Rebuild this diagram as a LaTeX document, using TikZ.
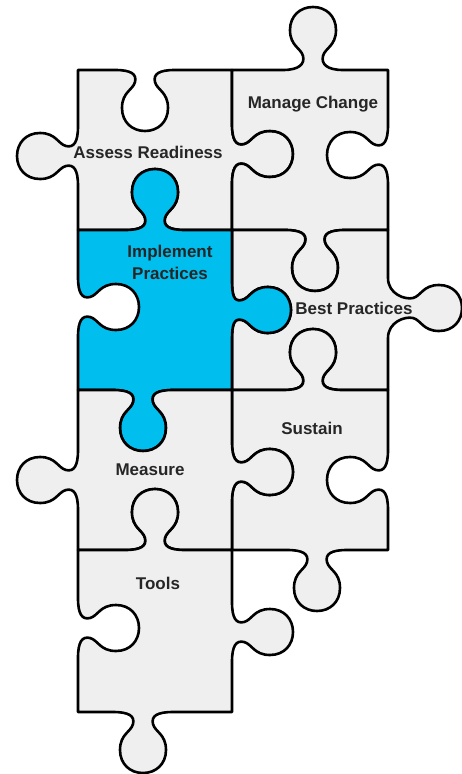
\documentclass[tikz,border=0pt]{standalone}
\usepackage{fontspec}
\setmainfont{Liberation Sans}
\definecolor{pgray}{RGB}{239,239,239}
\definecolor{pblue}{RGB}{0,190,238}
% knob: center (#1,#2), tangent (#3,#4), knob direction (#5,#6), extra length #7
\newcommand\knob[7]{%
 -- ({#1-30*(#3)},{#2-30*(#4)})
 .. controls ({#1-14*(#3)},{#2-14*(#4)})
 and ({#1-8*(#3)+(4+#7)*(#5)},{#2-8*(#4)+(4+#7)*(#6)})
 .. ({#1-10*(#3)+(12+#7)*(#5)},{#2-10*(#4)+(12+#7)*(#6)})
 .. controls ({#1-12*(#3)+(20+#7)*(#5)},{#2-12*(#4)+(20+#7)*(#6)})
 and ({#1-23*(#3)+(22+#7)*(#5)},{#2-23*(#4)+(22+#7)*(#6)})
 .. ({#1-23*(#3)+(38+#7)*(#5)},{#2-23*(#4)+(38+#7)*(#6)})
 .. controls ({#1-23*(#3)+(52+#7)*(#5)},{#2-23*(#4)+(52+#7)*(#6)})
 and ({#1-13*(#3)+(61+#7)*(#5)},{#2-13*(#4)+(61+#7)*(#6)})
 .. ({#1+(61+#7)*(#5)},{#2+(61+#7)*(#6)})
 .. controls ({#1+13*(#3)+(61+#7)*(#5)},{#2+13*(#4)+(61+#7)*(#6)})
 and ({#1+23*(#3)+(52+#7)*(#5)},{#2+23*(#4)+(52+#7)*(#6)})
 .. ({#1+23*(#3)+(38+#7)*(#5)},{#2+23*(#4)+(38+#7)*(#6)})
 .. controls ({#1+23*(#3)+(22+#7)*(#5)},{#2+23*(#4)+(22+#7)*(#6)})
 and ({#1+12*(#3)+(20+#7)*(#5)},{#2+12*(#4)+(20+#7)*(#6)})
 .. ({#1+10*(#3)+(12+#7)*(#5)},{#2+10*(#4)+(12+#7)*(#6)})
 .. controls ({#1+8*(#3)+(4+#7)*(#5)},{#2+8*(#4)+(4+#7)*(#6)})
 and ({#1+14*(#3)},{#2+14*(#4)})
 .. ({#1+30*(#3)},{#2+30*(#4)})
}
\tikzset{
 piece/.style={fill=pgray, draw=black, line width=2.6pt, line join=round},
 bluepiece/.style={piece, fill=pblue},
 lbl/.style={font=\bfseries\fontsize{17}{22}\selectfont, text=black!85, align=center, inner sep=0pt}
}
\begin{document}
\begin{tikzpicture}[x=1pt, y=-1pt]
\useasboundingbox (0,0) rectangle (462,774);
% Assess Readiness
\path[piece] (78,70) \knob{145}{70}{1}{0}{0}{1}{0}
 -- (232,70) \knob{232}{154}{0}{1}{1}{0}{0}
 -- (232,230) \knob{155}{230}{-1}{0}{0}{-1}{0}
 -- (78,230) \knob{78}{156}{0}{-1}{-1}{0}{0} -- cycle;
% Manage Change
\path[piece] (232,70) \knob{313}{70}{1}{0}{0}{-1}{2}
 -- (388,70) \knob{388}{155}{0}{1}{-1}{0}{0}
 -- (388,230) \knob{315}{230}{-1}{0}{0}{1}{0}
 -- (232,230) \knob{232}{154}{0}{-1}{1}{0}{0} -- cycle;
% Best Practices
\path[piece] (232,230) \knob{315}{230}{1}{0}{0}{1}{0}
 -- (388,230) \knob{388}{308}{0}{1}{1}{0}{13}
 -- (388,390) \knob{313}{390}{-1}{0}{0}{-1}{0}
 -- (232,390) \knob{232}{310}{0}{-1}{1}{0}{-2} -- cycle;
% Implement Practices
\path[bluepiece] (78,230) \knob{155}{230}{1}{0}{0}{-1}{0}
 -- (232,230) \knob{232}{310}{0}{1}{1}{0}{-2}
 -- (232,390) \knob{143}{390}{-1}{0}{0}{1}{0}
 -- (78,390) \knob{78}{307}{0}{-1}{1}{0}{0} -- cycle;
% Sustain
\path[piece] (232,390) \knob{313}{390}{1}{0}{0}{-1}{0}
 -- (388,390) \knob{388}{480}{0}{1}{-1}{0}{0}
 -- (388,550) \knob{317}{550}{-1}{0}{0}{1}{0}
 -- (232,550) \knob{232}{472}{0}{-1}{1}{0}{0} -- cycle;
% Measure
\path[piece] (78,390) \knob{143}{390}{1}{0}{0}{1}{0}
 -- (232,390) \knob{232}{472}{0}{1}{1}{0}{0}
 -- (232,550) \knob{155}{550}{-1}{0}{0}{-1}{0}
 -- (78,550) \knob{78}{480}{0}{-1}{-1}{0}{0} -- cycle;
% Tools
\path[piece] (78,550) \knob{155}{550}{1}{0}{0}{-1}{0}
 -- (232,550) \knob{232}{632}{0}{1}{1}{0}{0}
 -- (232,712) \knob{143}{712}{-1}{0}{0}{1}{0}
 -- (78,712) \knob{78}{628}{0}{-1}{1}{0}{0} -- cycle;
% labels
\node[lbl] (assess) at (148,152) {Assess Readiness};
\node[lbl] (manage) at (313,104) {Manage Change};
\node[lbl] (implement) at (170,262) {Implement\\Practices};
\node[lbl] (best) at (354,308) {Best Practices};
\node[lbl] (sustain) at (312,428) {Sustain};
\node[lbl] (measure) at (150,470) {Measure};
\node[lbl] (tools) at (158,583) {Tools};
\end{tikzpicture}
\end{document}
